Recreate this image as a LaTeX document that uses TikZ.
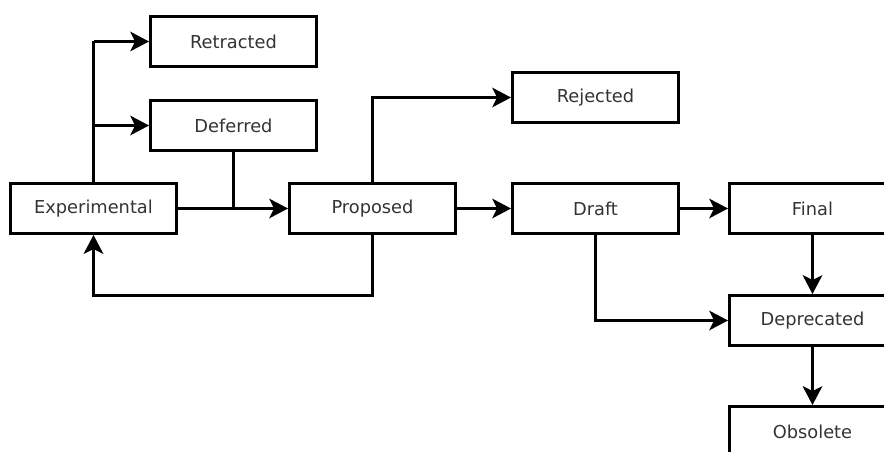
\documentclass[tikz,border=0pt]{standalone}
\usepackage{fontspec}
\setmainfont{DejaVu Sans}
\usetikzlibrary{arrows.meta}
\begin{document}
\begin{tikzpicture}[x=1pt,y=1pt,
  state/.style={draw=black, line width=3pt, minimum width=166pt, minimum height=50pt,
    inner sep=0pt, font=\fontsize{17.8}{20}\selectfont, text=black!80},
  conn/.style={line width=3pt},
  arr/.style={conn, -{Stealth[length=19pt, width=20pt, inset=5pt, line width=0pt]}}]
\useasboundingbox (0,0) rectangle (884,-452);
\clip (0,0) rectangle (884,-452);
\node[state] (ret) at (233.5,-41.5) {Retracted};
\node[state] (def) at (233.5,-125.5) {Deferred};
\node[state] (exp) at (93.5,-208.5) {Experimental};
\node[state] (prop) at (372.5,-208.5) {Proposed};
\node[state] (rej) at (595.5,-97.5) {Rejected};
\node[state] (draft) at (595.5,-208.5) {Draft};
\node[state] (fin) at (812.5,-208.5) {Final};
\node[state] (dep) at (812.5,-320.5) {Deprecated};
\node[state] (obs) at (812.5,-431.5) {Obsolete};
\coordinate (ret0) at (exp.north |- ret.west);
\coordinate (def0) at (exp.north |- def.west);
\coordinate (join) at (def.south |- exp.east);
\draw[conn] (exp.north) -- (ret0);
\draw[arr] (ret0) -- (ret.west);
\draw[arr] (def0) -- (def.west);
\draw[arr] (exp.east) -- (prop.west);
\draw[conn] (def.south) -- (join);
\draw[arr] (prop.north) |- (rej.west);
\draw[arr] (prop.south) -- ++(0,-60) -| (exp.south);
\draw[arr] (prop.east) -- (draft.west);
\draw[arr] (draft.east) -- (fin.west);
\draw[arr] (fin.south) -- (dep.north);
\draw[arr] (draft.south) |- (dep.west);
\draw[arr] (dep.south) -- (obs.north);
\end{tikzpicture}
\end{document}
